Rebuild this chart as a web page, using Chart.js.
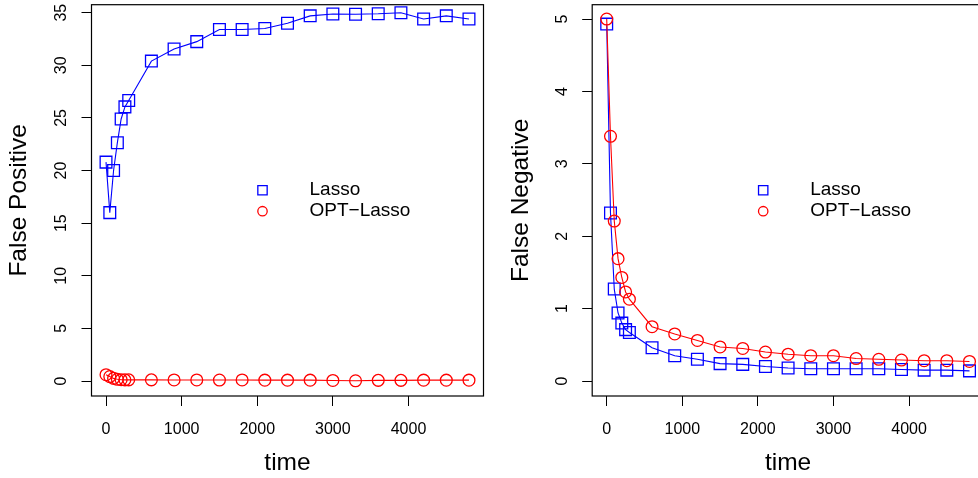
<!DOCTYPE html>
<html>
<head>
<meta charset="utf-8">
<script src="https://cdn.jsdelivr.net/npm/chart.js@4"></script>
<style>
html,body{margin:0;padding:0;background:#fff;overflow:hidden;width:978px;height:478px}
canvas{position:absolute;top:0}
#fp{left:0}
#fn{left:489px}
</style>
</head>
<body>
<canvas id="fp" width="489" height="478"></canvas>
<canvas id="fn" width="500" height="478"></canvas>
<script>
var times = [0,50,100,150,200,250,300,600,900,1200,1500,1800,2100,2400,2700,3000,3300,3600,3900,4200,4500,4800]
var lassoFP = [20.8,16.0,20.0,22.65,24.9,26.05,26.65,30.4,31.55,32.25,33.4,33.4,33.5,34.0,34.7,34.88,34.85,34.9,35.0,34.4,34.7,34.4]
var optFP = [0.6,0.42,0.25,0.16,0.12,0.11,0.11,0.11,0.1,0.1,0.09,0.1,0.08,0.08,0.08,0.05,0.02,0.06,0.06,0.08,0.08,0.08]
var lassoFN = [4.93,2.32,1.27,0.94,0.80,0.71,0.67,0.46,0.35,0.30,0.24,0.23,0.20,0.18,0.17,0.17,0.17,0.17,0.16,0.15,0.15,0.14]
var optFN = [5.0,3.38,2.21,1.69,1.43,1.23,1.13,0.75,0.65,0.56,0.47,0.45,0.40,0.37,0.35,0.35,0.31,0.30,0.29,0.28,0.28,0.27]
var xTicks = [0,1000,2000,3000,4000]
var seriesNames = ["Lasso","OPT\u2212Lasso"]

var FONT = "'Liberation Sans', Arial, Helvetica, sans-serif"
Chart.defaults.font.family = FONT
Chart.defaults.color = "#000"

function pts(ys){
	return times.map(function(t,i){ return {x:t, y:ys[i]} })
}

// R-like box, rotated y labels, legend inside the plot
var rStyle = {
	id: "rStyle",
	afterDraw: function(chart){
		var ctx = chart.ctx
		var a = chart.chartArea
		ctx.save()
		ctx.strokeStyle = "#000"
		ctx.lineWidth = 1.2
		ctx.strokeRect(a.left, a.top, a.right-a.left, a.bottom-a.top)

		// y tick labels, parallel to the axis like R
		var ys = chart.scales.y
		ctx.font = "16px " + FONT
		ctx.fillStyle = "#000"
		ctx.textAlign = "center"
		ctx.textBaseline = "middle"
		ys.ticks.forEach(function(t){
			var py = ys.getPixelForValue(t.value)
			ctx.save()
			ctx.translate(a.left - 30, py)
			ctx.rotate(-Math.PI/2)
			ctx.fillText(String(t.value), 0, 0)
			ctx.restore()
		})

		var lx = a.left + 171, ly = a.top + 185.5
		var marks = [
			{style:"rect", radius:6.6, col:"#0000ff"},
			{style:"circle", radius:4.7, col:"#ff0000"}
		]
		ctx.font = "19px " + FONT
		ctx.textAlign = "left"
		for(var i=0;i<2;i++){
			var y = ly + i*21
			ctx.strokeStyle = marks[i].col
			ctx.fillStyle = "rgba(0,0,0,0)"
			ctx.lineWidth = 1.3
			Chart.helpers.drawPoint(ctx, {pointStyle:marks[i].style, radius:marks[i].radius, rotation:0, borderWidth:1.3}, lx, y)
			ctx.fillStyle = "#000"
			ctx.fillText(seriesNames[i], lx + 47, y)
		}
		ctx.restore()
	}
}

function panel(id, lasso, opt, yMin, yMax, yStep, yTitle, yWidth, yTitlePad, padRight){
	new Chart(id, {
		type: "line",
		data: {datasets: [
			{label: seriesNames[0], data: pts(lasso), order: 1,
				borderColor: "#0000ff", borderWidth: 1.1, pointStyle: "rect", pointRadius: 8.3,
				pointBorderColor: "#0000ff", pointBackgroundColor: "rgba(0,0,0,0)", pointBorderWidth: 1.3},
			{label: seriesNames[1], data: pts(opt), order: 0,
				borderColor: "#ff0000", borderWidth: 1.1, pointStyle: "circle", pointRadius: 5.9,
				pointBorderColor: "#ff0000", pointBackgroundColor: "rgba(0,0,0,0)", pointBorderWidth: 1.3}
		]},
		options: {
			responsive: false,
			animation: false,
			events: [],
			layout: {autoPadding: false, padding: {left: 0, top: 4.7, right: padRight, bottom: 0}},
			plugins: {legend: {display: false}, tooltip: {enabled: false}},
			scales: {
				x: {
					type: "linear", min: -192, max: 4992,
					border: {display: false},
					grid: {drawOnChartArea: false, drawTicks: true, tickLength: 10, color: "#000", lineWidth: 1},
					afterBuildTicks: function(s){ s.ticks = xTicks.map(function(v){ return {value:v} }) },
					ticks: {font: {size: 16}, padding: 14, maxRotation: 0, autoSkip: false,
						callback: function(v){ return String(v) }},
					title: {display: true, text: "time", font: {size: 24.5}, padding: {top: 0, bottom: 0}},
					afterFit: function(s){ s.height = 82; s.paddingLeft = 0; s.paddingRight = 0 }
				},
				y: {
					type: "linear", min: yMin, max: yMax,
					border: {display: false},
					grid: {drawOnChartArea: false, drawTicks: true, tickLength: 10, color: "#000", lineWidth: 1},
					ticks: {display: false, stepSize: yStep, includeBounds: false, autoSkip: false},
					title: {display: true, text: yTitle, font: {size: 24.5}, padding: {top: yTitlePad, bottom: 0}},
					afterFit: function(s){ s.width = yWidth; s.paddingTop = 0; s.paddingBottom = 0 }
				}
			}
		},
		plugins: [rStyle]
	})
}

panel("fp", lassoFP, optFP, -1.425, 35.76, 5, "False Positive", 91.5, 4.3, 5.5)
panel("fn", lassoFN, optFN, -0.207, 5.198, 1, "False Negative", 103.2, 17.3, 5)
</script>
</body>
</html>
